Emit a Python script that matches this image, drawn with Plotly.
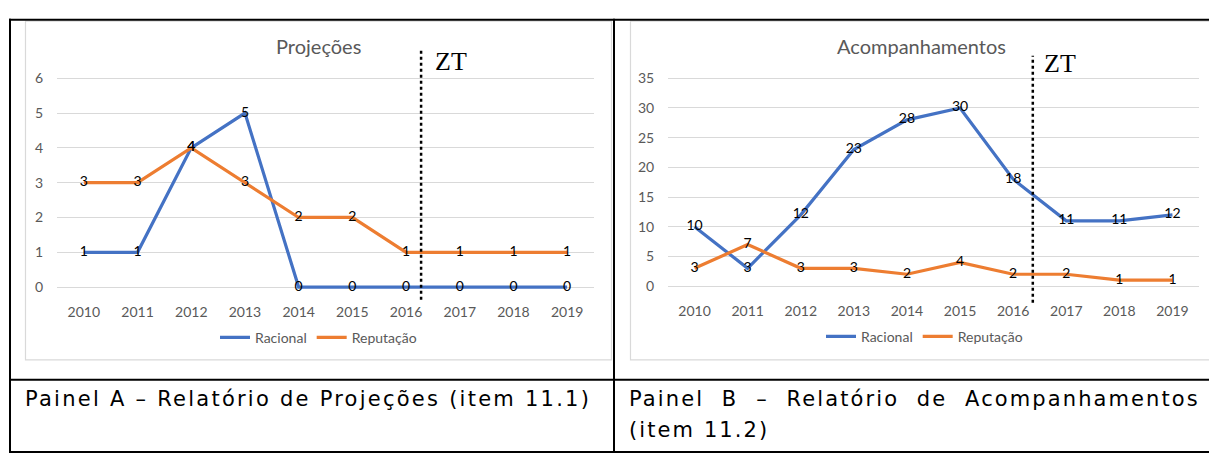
import plotly.graph_objects as go

# ---------------- data ----------------
years = ["2010", "2011", "2012", "2013", "2014", "2015", "2016", "2017", "2018", "2019"]
proj_racional = [1, 1, 4, 5, 0, 0, 0, 0, 0, 0]
proj_reputacao = [3, 3, 4, 3, 2, 2, 1, 1, 1, 1]
acomp_racional = [10, 3, 12, 23, 28, 30, 18, 11, 11, 12]
acomp_reputacao = [3, 7, 3, 3, 2, 4, 2, 2, 1, 1]
series_names = ["Racional", "Reputação"]
chart_titles = ["Projeções", "Acompanhamentos"]
caption_a = "Painel A – Relatório de Projeções (item 11.1)"
caption_b_line1 = "Painel B – Relatório de Acompanhamentos"
caption_b_line2 = "(item 11.2)"
zt_label = "ZT"

# ---------------- styling ----------------
W, H = 1209, 457
BLUE = "#4472C4"
ORANGE = "#ED7D31"
GRID = "#D9D9D9"
AXTXT = "#595959"
FONT = "Lato"


def fx(px):
    return px / W


def fy(py):
    return 1 - py / H


fig = go.Figure()

panels = [
    dict(xa="x", ya="y", leg="legend", data=[proj_racional, proj_reputacao]),
    dict(xa="x2", ya="y2", leg="legend2", data=[acomp_racional, acomp_reputacao]),
]
colors = [BLUE, ORANGE]

for p in panels:
    for name, vals, col in zip(series_names, p["data"], colors):
        fig.add_trace(go.Scatter(
            x=years, y=vals, name=name, mode="lines",
            line=dict(color=col, width=3.2),
            xaxis=p["xa"], yaxis=p["ya"], legend=p["leg"],
            hoverinfo="skip",
        ))
for p in panels:
    for vals in p["data"]:
        fig.add_trace(go.Scatter(
            x=years, y=vals, mode="text", text=[str(v) for v in vals],
            textposition="middle center",
            textfont=dict(family=FONT, size=14, color="black"),
            xaxis=p["xa"], yaxis=p["ya"], showlegend=False,
            hoverinfo="skip", cliponaxis=False,
        ))

common_x = dict(type="category", range=[-0.5, 9.5], showgrid=False, zeroline=False,
                showline=False, ticks="outside", ticklen=9, tickcolor="rgba(0,0,0,0)",
                tickfont=dict(family=FONT, size=14, color=AXTXT), fixedrange=True)
common_y = dict(showgrid=True, gridcolor=GRID, gridwidth=1.3, zeroline=False, showline=False,
                ticks="outside", ticklen=10, tickcolor="rgba(0,0,0,0)",
                tickfont=dict(family=FONT, size=14, color=AXTXT), fixedrange=True)

u1 = (287 - 73) / 6
u2 = (286 - 73) / 35
fig.update_layout(
    xaxis=dict(domain=[fx(57), fx(594)], anchor="y", **common_x),
    yaxis=dict(domain=[fy(287 + 0.1 * u1), fy(73 - 0.05 * u1)], anchor="x",
               range=[-0.1, 6.05], dtick=1, **common_y),
    xaxis2=dict(domain=[fx(668), fx(1199)], anchor="y2", **common_x),
    yaxis2=dict(domain=[fy(286 + 0.6 * u2), fy(73 - 0.3 * u2)], anchor="x2",
                range=[-0.6, 35.3], dtick=5, **common_y),
)

legend_common = dict(orientation="h", yanchor="middle", xanchor="left",
                     font=dict(family=FONT, size=14, color=AXTXT),
                     bgcolor="rgba(0,0,0,0)", itemclick=False, itemdoubleclick=False)
fig.update_layout(
    legend=dict(x=fx(215), y=fy(339), **legend_common),
    legend2=dict(x=fx(821), y=fy(338), **legend_common),
)

shapes = []
shapes.append(dict(type="rect", xref="paper", yref="paper", x0=fx(25.5), x1=fx(611.5),
                   y0=fy(361.5), y1=fy(14.5), line=dict(color=GRID, width=1.2)))
shapes.append(dict(type="rect", xref="paper", yref="paper", x0=fx(630.5), x1=fx(1230),
                   y0=fy(361.5), y1=fy(14.5), line=dict(color=GRID, width=1.2)))
shapes.append(dict(type="line", xref="x", yref="paper", x0=6.28, x1=6.28,
                   y0=fy(300), y1=fy(43), line=dict(color="black", width=2.5, dash="dot")))
shapes.append(dict(type="line", xref="x2", yref="paper", x0=6.37, x1=6.37,
                   y0=fy(303), y1=fy(50), line=dict(color="black", width=2.5, dash="dot")))
tl = dict(color="black", width=2)
shapes.append(dict(type="line", xref="paper", yref="paper", x0=fx(9), x1=fx(1209), y0=fy(13), y1=fy(13), line=tl))
shapes.append(dict(type="line", xref="paper", yref="paper", x0=fx(10), x1=fx(10), y0=fy(12), y1=fy(457), line=tl))
shapes.append(dict(type="line", xref="paper", yref="paper", x0=fx(614), x1=fx(614), y0=fy(12), y1=fy(457), line=tl))
shapes.append(dict(type="line", xref="paper", yref="paper", x0=fx(9), x1=fx(1209), y0=fy(382), y1=fy(382), line=tl))
shapes.append(dict(type="line", xref="paper", yref="paper", x0=fx(9), x1=fx(1209), y0=fy(456), y1=fy(456), line=tl))

annotations = []
for title, cx in zip(chart_titles, [318, 921]):
    annotations.append(dict(text=title, xref="paper", yref="paper", x=fx(cx), y=fy(40),
                            xanchor="center", yanchor="middle", showarrow=False,
                            font=dict(family=FONT, size=20, color=AXTXT)))
for zx, zy in [(433, 56), (1042, 58)]:
    annotations.append(dict(text=zt_label, xref="paper", yref="paper", x=fx(zx), y=fy(zy),
                            xanchor="left", yanchor="middle", showarrow=False,
                            font=dict(family="Liberation Serif", size=26, color="black")))
cap_font = dict(family="DejaVu Sans", size=21, color="black")


def spaced(t, ls, ws=0):
    return '<span style="letter-spacing:%.2fpx;word-spacing:%.2fpx">%s</span>' % (ls, ws, t)


annotations.append(dict(text=spaced(caption_a, 2.25), xref="paper", yref="paper", x=fx(23), y=fy(402),
                        xanchor="left", yanchor="middle", showarrow=False, font=cap_font))
annotations.append(dict(text=spaced(caption_b_line1, 2.1, 9), xref="paper", yref="paper", x=fx(627), y=fy(402),
                        xanchor="left", yanchor="middle", showarrow=False, font=cap_font))
annotations.append(dict(text=spaced(caption_b_line2, 2.1), xref="paper", yref="paper", x=fx(627), y=fy(433),
                        xanchor="left", yanchor="middle", showarrow=False, font=cap_font))

fig.update_layout(
    width=W, height=H, margin=dict(l=0, r=0, t=0, b=0, pad=0),
    paper_bgcolor="white", plot_bgcolor="white",
    shapes=shapes, annotations=annotations,
)

fig.write_html("out.html", config={"displayModeBar": False},
               post_script="document.body.style.margin='0';document.body.style.padding='0';")
